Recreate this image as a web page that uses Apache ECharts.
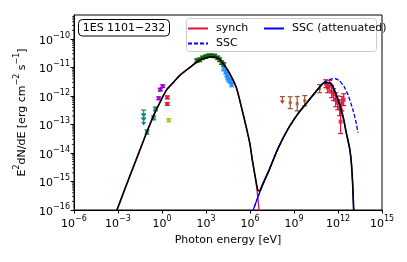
<!DOCTYPE html>
<html><head><meta charset="utf-8">
<script src="https://cdn.jsdelivr.net/npm/echarts@6/dist/echarts.min.js"></script>
<style>html,body{margin:0;padding:0;background:#fff}#c{width:407px;height:262px}</style>
</head><body><div id="c"></div>
<script>
// ---- tick exponents ----
const xTickExponents = [-6, -3, 0, 3, 6, 9, 12, 15];
const yTickExponents = [-16, -15, -14, -13, -12, -11, -10];

// ---- model curves: energy [eV], E^2 dN/dE [erg cm^-2 s^-1] ----
const totalE = [5.0e-4, 8.5e-4, 3.16e-3, 1.0e-2, 3.16e-2, 0.1, 0.316, 1.0, 2.0, 5.6, 15.8, 79, 370, 1000, 2500, 7900, 1.6e4, 4.0e4, 1.2e5, 2.5e5, 5.6e5, 1.0e6, 1.5e6, 2.45e6, 3.5e6, 4.5e6, 6.3e6, 2.0e7, 7.9e7, 4.0e8, 2.0e9, 7.1e9, 3.2e10, 1.26e11, 3.5e11, 1.0e12, 2.2e12, 3.7e12, 6.3e12, 8.3e12, 1.0e13, 1.17e13, 1.3e13];
const totalF = [4.8e-17, 1.0e-16, 6.0e-16, 2.8e-15, 1.3e-14, 6.0e-14, 2.5e-13, 8.3e-13, 1.6e-12, 2.9e-12, 5.2e-12, 1.0e-11, 1.8e-11, 2.2e-11, 2.35e-11, 2.0e-11, 1.3e-11, 6.3e-12, 1.9e-12, 4.4e-13, 7.9e-14, 2.0e-14, 5.0e-15, 1.15e-15, 4.8e-16, 4.7e-16, 6.8e-16, 2.5e-15, 1.4e-14, 7.1e-14, 2.5e-13, 5.6e-13, 1.45e-12, 3.0e-12, 2.7e-12, 7.4e-13, 1.9e-13, 5.0e-14, 1.4e-14, 4.0e-15, 8.0e-16, 1.0e-16, 2.5e-17];

const synchE = [5.0e-4, 8.5e-4, 3.16e-3, 1.0e-2, 3.16e-2, 0.1, 0.316, 1.0, 2.0, 5.6, 15.8, 79, 370, 1000, 2500, 7900, 1.6e4, 4.0e4, 1.2e5, 2.5e5, 5.6e5, 1.0e6, 1.5e6, 2.45e6, 3.5e6, 4.8e6];
const synchF = [4.8e-17, 1.0e-16, 6.0e-16, 2.8e-15, 1.3e-14, 6.0e-14, 2.5e-13, 8.3e-13, 1.6e-12, 2.9e-12, 5.2e-12, 1.0e-11, 1.8e-11, 2.2e-11, 2.35e-11, 2.0e-11, 1.3e-11, 6.3e-12, 1.9e-12, 4.4e-13, 7.9e-14, 2.0e-14, 5.0e-15, 1.15e-15, 2.4e-16, 4.5e-17];

const sscAttE = [1.0e6, 1.6e6, 3.16e6, 6.3e6, 2.0e7, 7.9e7, 4.0e8, 2.0e9, 7.1e9, 3.2e10, 1.26e11, 3.5e11, 1.0e12, 2.2e12, 3.7e12, 6.3e12, 8.3e12, 1.0e13, 1.17e13, 1.3e13];
const sscAttF = [5.0e-17, 9.5e-17, 2.5e-16, 6.3e-16, 2.5e-15, 1.4e-14, 7.1e-14, 2.5e-13, 5.6e-13, 1.45e-12, 3.0e-12, 2.7e-12, 7.4e-13, 1.9e-13, 5.0e-14, 1.4e-14, 4.0e-15, 8.0e-16, 1.0e-16, 2.5e-17];

const sscE = [1.0e6, 1.6e6, 3.16e6, 6.3e6, 2.0e7, 7.9e7, 4.0e8, 2.0e9, 7.1e9, 3.2e10, 7.9e10, 1.6e11, 3.2e11, 6.3e11, 1.26e12, 2.5e12, 5.0e12, 1.0e13, 1.6e13, 2.3e13];
const sscF = [5.0e-17, 9.5e-17, 2.5e-16, 6.3e-16, 2.5e-15, 1.4e-14, 7.1e-14, 2.5e-13, 5.6e-13, 1.45e-12, 2.5e-12, 3.4e-12, 3.9e-12, 4.1e-12, 3.4e-12, 2.2e-12, 1.05e-12, 3.5e-13, 1.4e-13, 5.2e-14];

// ---- data points: [E, F, F_low, F_high] ----
const uvUpperLimits = [[0.056, 3.2e-13], [0.056, 2.35e-13], [0.056, 1.7e-13]];
const uvPoints = [[0.355, 3.5e-13, 3.0e-13, 4.1e-13], [0.27, 1.7e-13, 1.45e-13, 2.0e-13], [0.095, 5.5e-14, 4.6e-14, 6.5e-14]];
const violetPoints = [[0.76, 1.66e-12, 1.5e-12, 1.85e-12], [1.12, 2.2e-12, 2.0e-12, 2.45e-12], [0.6, 8.3e-13, 7.4e-13, 9.3e-13]];
const opticalPoints = [[2.3, 8.9e-13, 8.0e-13, 1.0e-12], [2.3, 5.2e-13, 4.7e-13, 5.8e-13]];
const nirPoints = [[2.9, 1.4e-13, 1.25e-13, 1.6e-13]];
const softXPoints = [[234, 1.74e-11, 1.5e-11, 2.0e-11], [371, 1.86e-11, 1.6e-11, 2.15e-11], [590, 2.2e-11, 1.9e-11, 2.5e-11], [950, 2.4e-11, 2.1e-11, 2.75e-11], [1510, 2.57e-11, 2.25e-11, 2.95e-11], [2450, 2.57e-11, 2.25e-11, 2.95e-11], [3900, 2.5e-11, 2.2e-11, 2.9e-11], [6300, 2.2e-11, 1.9e-11, 2.5e-11], [8500, 1.86e-11, 1.6e-11, 2.15e-11], [1.17e4, 1.48e-11, 1.28e-11, 1.7e-11], [1.6e4, 1.26e-11, 1.1e-11, 1.45e-11]];
const hardXPoints = [[1.6e4, 9.1e-12, 7.6e-12, 1.1e-11], [2.2e4, 7.1e-12, 5.9e-12, 8.5e-12], [2.6e4, 5.6e-12, 4.6e-12, 6.7e-12], [3.0e4, 4.4e-12, 3.7e-12, 5.3e-12], [3.5e4, 3.7e-12, 3.1e-12, 4.4e-12], [4.8e4, 3.2e-12, 2.7e-12, 3.8e-12], [5.6e4, 2.5e-12, 2.1e-12, 3.0e-12]];
const fermiUpperLimits = [[1.6e8, 9.5e-13]];
const fermiPoints = [[5.5e8, 5.8e-13, 3.6e-13, 9.4e-13], [1.65e9, 5.4e-13, 3.0e-13, 9.6e-13], [5.4e9, 6.8e-13, 4.5e-13, 1.03e-12], [5.6e10, 1.8e-12, 1.3e-12, 2.5e-12]];
const vhePoints = [[1.45e11, 2.7e-12, 1.95e-12, 3.7e-12], [2.0e11, 1.95e-12, 1.3e-12, 2.95e-12], [2.7e11, 2.3e-12, 1.5e-12, 3.5e-12], [3.7e11, 1.4e-12, 8.7e-13, 2.3e-12], [5.0e11, 1.12e-12, 6.9e-13, 1.8e-12], [6.9e11, 7.4e-13, 4.2e-13, 1.3e-12], [9.5e11, 5.8e-13, 3.3e-13, 1.0e-12], [1.3e12, 3.9e-13, 2.05e-13, 7.4e-13], [1.8e12, 5.4e-13, 3.0e-13, 9.6e-13], [2.45e12, 7.4e-13, 4.6e-13, 1.2e-12], [1.5e12, 1.26e-13, 4.8e-14, 3.3e-13]];

// ---- build ----
const FONT = 'DejaVu Sans';
const lg = Math.log10;
const pairs = (E, F) => E.map((e, i) => [lg(e), lg(F[i])]);
const supLabel = v => {
  if (Math.abs(v - Math.round(v)) > 1e-6) return '';
  const n = Math.round(v);
  return '{b|10}{s|' + (n < 0 ? '\u2212' : '') + Math.abs(n) + '}';
};
const rich = {
  b: { fontSize: 11, fontFamily: FONT, color: '#000', lineHeight: 15, verticalAlign: 'bottom' },
  s: { fontSize: 8, fontFamily: FONT, color: '#000', lineHeight: 8, verticalAlign: 'top' }
};

function errSeries(rows, color) {
  return {
    type: 'custom', z: 2, silent: true, clip: false,
    data: rows.map(r => [lg(r[0]), lg(r[2]), lg(r[3])]),
    encode: { x: 0, y: [1, 2] },
    renderItem: function (params, api) {
      const x = api.value(0);
      const p1 = api.coord([x, api.value(1)]), p2 = api.coord([x, api.value(2)]);
      const cw = 2.5, st = { stroke: color, lineWidth: 1.2 };
      return { type: 'group', children: [
        { type: 'line', shape: { x1: p1[0], y1: p1[1], x2: p2[0], y2: p2[1] }, style: st },
        { type: 'line', shape: { x1: p1[0] - cw, y1: p1[1], x2: p1[0] + cw, y2: p1[1] }, style: st },
        { type: 'line', shape: { x1: p2[0] - cw, y1: p2[1], x2: p2[0] + cw, y2: p2[1] }, style: st }
      ]};
    }
  };
}
function markSeries(rows, color, symbol, size) {
  return {
    type: 'scatter', z: 2, silent: true, symbol: symbol || 'rect', symbolSize: size || 4,
    itemStyle: { color: color }, data: rows.map(r => [lg(r[0]), lg(r[1])])
  };
}
function ulSeries(rows, color) {
  return {
    type: 'custom', z: 2, silent: true, clip: false,
    data: rows.map(r => [lg(r[0]), lg(r[1])]),
    encode: { x: 0, y: 1 },
    renderItem: function (params, api) {
      const p = api.coord([api.value(0), api.value(1)]);
      const st = { stroke: color, lineWidth: 1.2 };
      return { type: 'group', children: [
        { type: 'line', shape: { x1: p[0] - 2.5, y1: p[1], x2: p[0] + 2.5, y2: p[1] }, style: st },
        { type: 'line', shape: { x1: p[0], y1: p[1], x2: p[0], y2: p[1] + 5 }, style: st },
        { type: 'polygon', shape: { points: [[p[0] - 2.5, p[1] + 4], [p[0] + 2.5, p[1] + 4], [p[0], p[1] + 7.5]] }, style: { fill: color } }
      ]};
    }
  };
}
// y minor ticks (2..9 x 10^n)
const minorVals = [];
yTickExponents.forEach(n => { for (let k = 2; k <= 9; k++) { const v = n + lg(k); if (v < -9.16) minorVals.push([-6, v]); } });

const chart = echarts.init(document.getElementById('c'), null, { renderer: 'canvas' });
const C_TEAL = '#008b8b', C_VIOLET = '#9400d3', C_CRIMSON = '#dc143c', C_YG = '#9acd32', C_GREEN = '#006400', C_DB = '#1e90ff', C_BROWN = '#a0522d';
const legendCommon = { orient: 'vertical', itemGap: 4, itemWidth: 20, itemHeight: 10, padding: 0, z: 12, selectedMode: false,
  itemStyle: { opacity: 0 }, textStyle: { fontSize: 11, color: '#000', fontFamily: FONT, padding: [0, 0, 0, 3] } };

chart.setOption({
  animation: false,
  textStyle: { fontFamily: FONT },
  grid: { left: 74, right: 25, top: 15, bottom: 52, show: true, borderColor: '#000', borderWidth: 1, backgroundColor: 'transparent' },
  xAxis: {
    type: 'value', min: -6, max: 15, interval: 3,
    axisLine: { show: true, onZero: false, lineStyle: { color: '#000', width: 1 } },
    axisTick: { show: true, length: 3.5, lineStyle: { color: '#000', width: 1 } },
    axisLabel: { formatter: supLabel, rich: rich, margin: 5, showMinLabel: true, showMaxLabel: true },
    splitLine: { show: false },
    name: 'Photon energy [eV]', nameLocation: 'middle', nameGap: 25,
    nameTextStyle: { fontSize: 11, color: '#000', fontFamily: FONT }
  },
  yAxis: {
    type: 'value', min: -16, max: -9.16, interval: 1,
    axisLine: { show: true, onZero: false, lineStyle: { color: '#000', width: 1 } },
    axisTick: { show: true, length: 3.5, lineStyle: { color: '#000', width: 1 } },
    axisLabel: { formatter: supLabel, rich: rich, margin: 4, showMaxLabel: false },
    splitLine: { show: false },
    name: '{b|E}{s|2}{b|dN/dE [erg cm}{s|\u22122}{b| s}{s|\u22121}{b|]}', nameLocation: 'middle', nameGap: 46, nameRotate: 90,
    nameTextStyle: { fontSize: 11, color: '#000', fontFamily: FONT, rich: rich }
  },
  legend: [
    Object.assign({ left: 187, top: 23, data: ['synch', 'SSC'] }, legendCommon),
    Object.assign({ left: 263, top: 23, data: ['SSC (attenuated)'] }, legendCommon)
  ],
  graphic: [
    { type: 'rect', z: 10, shape: { x: 186.5, y: 18.5, width: 190, height: 33, r: 3 }, style: { fill: 'rgba(255,255,255,0.8)', stroke: '#cccccc', lineWidth: 1 } },
    { type: 'rect', z: 10, shape: { x: 78.5, y: 19.5, width: 91, height: 16.5, r: 4 }, style: { fill: '#fff', stroke: '#000', lineWidth: 1 } },
    { type: 'text', z: 11, x: 124, y: 28, style: { text: '1ES 1101\u2212232', font: '11px "DejaVu Sans"', fill: '#000', align: 'center', verticalAlign: 'middle' } }
  ],
  series: [
    { type: 'custom', silent: true, clip: false, z: 1, data: minorVals, encode: { x: 0, y: 1 },
      renderItem: function (params, api) {
        const p = api.coord([api.value(0), api.value(1)]);
        return { type: 'line', shape: { x1: p[0] - 2, y1: p[1], x2: p[0], y2: p[1] }, style: { stroke: '#000', lineWidth: 0.8 } };
      } },
    errSeries(uvPoints, C_TEAL), markSeries(uvPoints, C_TEAL),
    ulSeries(uvUpperLimits, C_TEAL),
    errSeries(violetPoints, C_VIOLET), markSeries(violetPoints, C_VIOLET),
    errSeries(opticalPoints, C_CRIMSON), markSeries(opticalPoints, C_CRIMSON),
    errSeries(nirPoints, C_YG), markSeries(nirPoints, C_YG),
    errSeries(softXPoints, C_GREEN), markSeries(softXPoints, C_GREEN),
    errSeries(hardXPoints, C_DB), markSeries(hardXPoints, C_DB),
    ulSeries(fermiUpperLimits, C_BROWN),
    errSeries(fermiPoints, C_BROWN), markSeries(fermiPoints, C_BROWN, 'rect', 3),
    errSeries(vhePoints, C_CRIMSON), markSeries(vhePoints, C_CRIMSON),
    { name: 'synch', type: 'line', z: 3, symbol: 'none', smooth: 0.2, silent: true, color: C_CRIMSON,
      lineStyle: { color: C_CRIMSON, width: 1.3 }, data: pairs(synchE, synchF) },
    { name: 'SSC', type: 'line', z: 3, symbol: 'none', smooth: 0.2, silent: true, color: '#0000ff',
      lineStyle: { color: '#0000ff', width: 1.3, type: [4, 2] }, data: pairs(sscE, sscF) },
    { name: 'SSC (attenuated)', type: 'line', z: 3, symbol: 'none', smooth: 0.2, silent: true, color: '#0000ff',
      lineStyle: { color: '#0000ff', width: 1.3 }, data: pairs(sscAttE, sscAttF) },
    { name: 'total', type: 'line', z: 4, symbol: 'none', smooth: 0.2, silent: true, color: '#000',
      lineStyle: { color: '#000', width: 1.6 }, data: pairs(totalE, totalF) }
  ]
});
</script></body></html>
